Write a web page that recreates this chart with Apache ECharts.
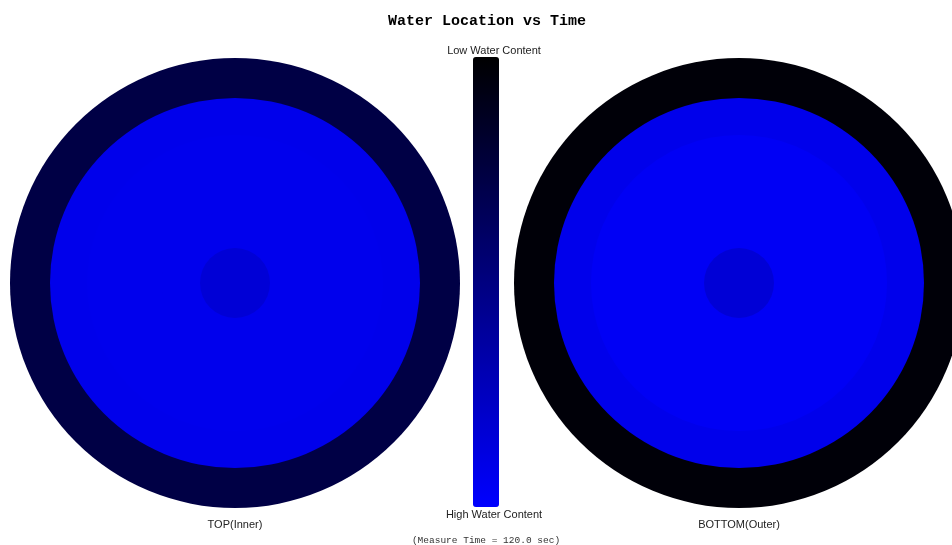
<!DOCTYPE html>
<html>
<head>
<meta charset="utf-8">
<script src="https://cdn.jsdelivr.net/npm/echarts@6/dist/echarts.min.js"></script>
<style>html,body{margin:0;padding:0;background:#fff;}#main{width:952px;height:545px;}</style>
</head>
<body>
<div id="main"></div>
<script>
// ---- data ----
const ringNames = ['Core', 'Ring 2', 'Ring 3', 'Ring 4', 'Ring 5', 'Outer Ring'];
const topWater = [84, 93, 93, 93, 92, 27];     // water content %, TOP(Inner)
const bottomWater = [84, 96, 96, 96, 92, 3];   // water content %, BOTTOM(Outer)
const scaleLabels = ['Low Water Content', 'High Water Content'];
const panelLabels = ['TOP(Inner)', 'BOTTOM(Outer)'];
const titleText = 'Water Location vs Time';
const measureText = '(Measure Time = 120.0 sec)';

// ---- layout ----
const ringOuter = [35, 73, 110, 148, 185, 225];
const centers = [[235, 283], [739, 283]];

const chart = echarts.init(document.getElementById('main'));
const series = [];
[topWater, bottomWater].forEach((vals, p) => {
  // draw from largest to smallest so rings overlap without seams
  for (let i = ringNames.length - 1; i >= 0; i--) {
    series.push({
      type: 'pie',
      silent: true,
      center: centers[p],
      radius: [0, ringOuter[i]],
      label: { show: false },
      labelLine: { show: false },
      emphasis: { disabled: true },
      animation: false,
      itemStyle: { borderWidth: 0 },
      data: [{ name: ringNames[i], value: vals[i] }]
    });
  }
});

const option = {
  backgroundColor: '#ffffff',
  animation: false,
  title: {
    text: titleText,
    left: 482,
    top: 9,
    textAlign: 'center',
    textStyle: { fontFamily: 'Liberation Mono', fontWeight: 'bold', fontSize: 15, color: '#000' }
  },
  visualMap: {
    type: 'continuous',
    min: 0,
    max: 100,
    inverse: true,
    calculable: false,
    orient: 'vertical',
    left: 458,
    top: 42,
    itemWidth: 26,
    itemHeight: 450,
    text: ['', ''],
    showLabel: false,
    inRange: { color: ['#000000', '#0000ff'] },
    seriesIndex: series.map((s, i) => i)
  },
  graphic: [
    { type: 'text', x: 494, y: 51, style: { text: scaleLabels[0], font: '11px "Liberation Sans"', fill: '#222', textAlign: 'center', textVerticalAlign: 'middle' } },
    { type: 'text', x: 494, y: 515, style: { text: scaleLabels[1], font: '11px "Liberation Sans"', fill: '#222', textAlign: 'center', textVerticalAlign: 'middle' } },
    { type: 'text', x: 235, y: 525, style: { text: panelLabels[0], font: '11px "Liberation Sans"', fill: '#222', textAlign: 'center', textVerticalAlign: 'middle' } },
    { type: 'text', x: 739, y: 525, style: { text: panelLabels[1], font: '11px "Liberation Sans"', fill: '#222', textAlign: 'center', textVerticalAlign: 'middle' } },
    { type: 'text', x: 486, y: 540, style: { text: measureText, font: '9.5px "Liberation Mono"', fill: '#333', textAlign: 'center', textVerticalAlign: 'middle' } }
  ],
  series: series
};
chart.setOption(option);
</script>
</body>
</html>
